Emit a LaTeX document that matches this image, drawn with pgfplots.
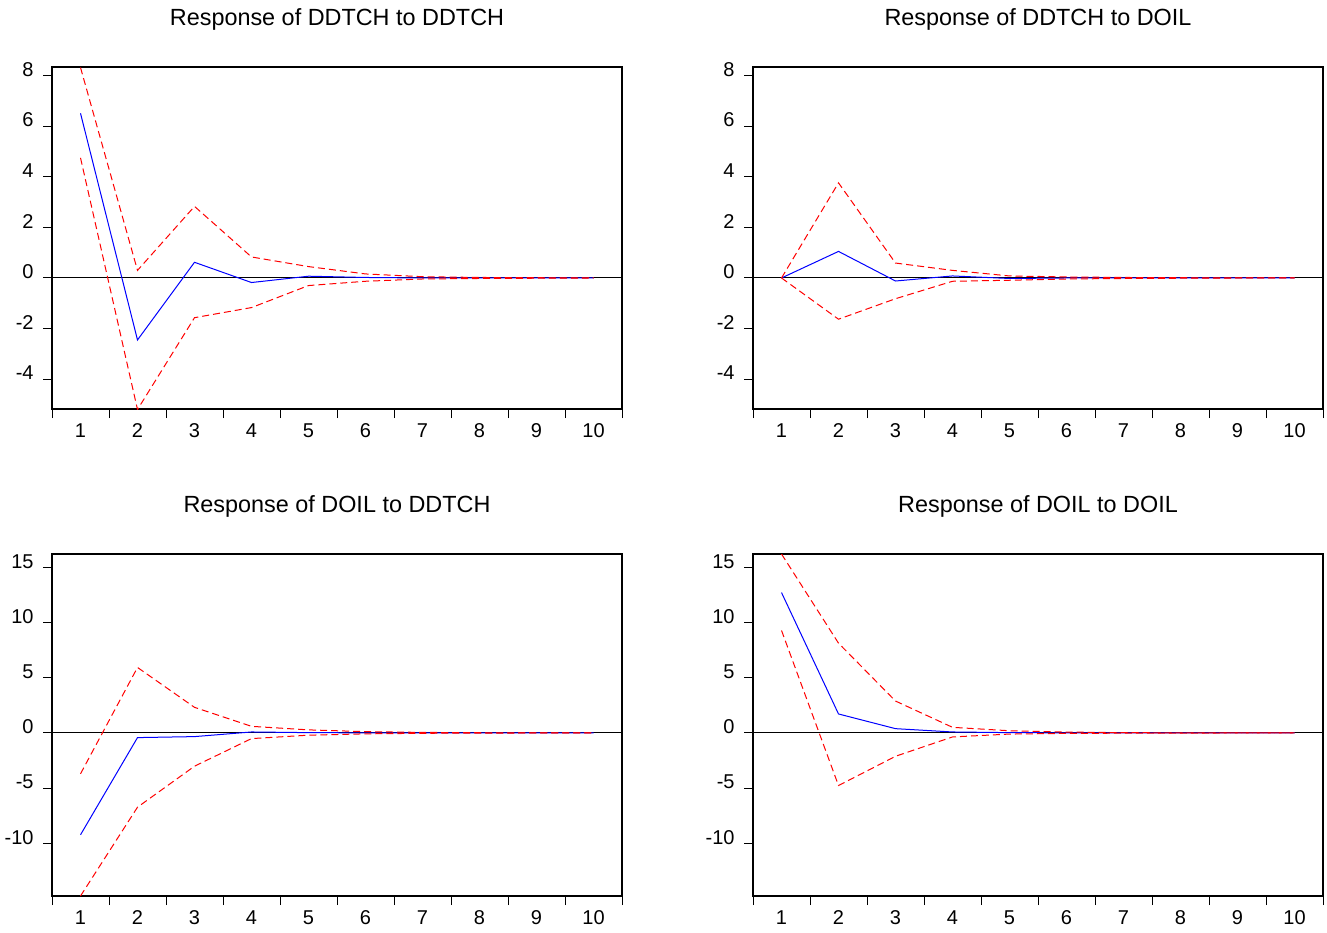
\documentclass[border=0pt]{standalone}
\usepackage{fontspec}
\setmainfont{Liberation Sans}
\usepackage{pgfplots}
\pgfplotsset{compat=1.18}
\definecolor{evblue}{RGB}{0,0,255}
\definecolor{evred}{RGB}{255,0,0}
\pgfplotsset{
  irf/.style={
    scale only axis, width=285pt, height=171pt,
    anchor=north west,
    xmin=0.5, xmax=10.5,
    axis line style={black, line width=0.6pt},
    tick align=outside,
    tick pos=left,
    xtick={0.5,1.5,2.5,3.5,4.5,5.5,6.5,7.5,8.5,9.5,10.5},
    x tick label as interval,
    xticklabels={1,2,3,4,5,6,7,8,9,10},
    major tick length=4.5pt,
    tick style={black, line width=0.5pt},
    xticklabel style={font=\fontsize{10}{12}\selectfont, anchor=base, yshift=-9.5pt},
    yticklabel style={font=\fontsize{10}{12}\selectfont, anchor=east, xshift=-1.2pt, yshift=2pt},
    title style={font=\fontsize{11.7}{14}\selectfont, anchor=base, at={(0.5,1)}, yshift=15pt},
    typeset ticklabels with strut=false,
    every axis plot/.append style={line width=0.5pt},
  },
  topax/.style={ymin=-5.18, ymax=8.34, ytick={-4,-2,0,2,4,6,8}, yticklabels={-4,-2,0,2,4,6,8}},
  botax/.style={ymin=-14.76, ymax=16.2, ytick={-10,-5,0,5,10,15}, yticklabels={-10,-5,0,5,10,15}},
  resp/.style={evblue, solid},
  band/.style={evred, dash pattern=on 3.5pt off 2pt},
  zero/.style={black, line width=0.5pt},
}
\begin{document}
\begin{tikzpicture}
\useasboundingbox (0,0) rectangle (663.5pt,-466pt);
% Top-left
\begin{axis}[irf, topax, at={(26pt,-33.5pt)}, title={Response of DDTCH to DDTCH}]
\addplot[zero] coordinates {(0.5,0) (10.5,0)};
\addplot[resp] coordinates {(1,6.51) (2,-2.45) (3,0.62) (4,-0.18) (5,0.07) (6,0.02) (7,0.0) (8,0.0) (9,0.0) (10,0.0)};
\addplot[band] coordinates {(1,8.32) (2,0.30) (3,2.83) (4,0.83) (5,0.45) (6,0.16) (7,0.05) (8,0.02) (9,0.01) (10,0.0)};
\addplot[band] coordinates {(1,4.75) (2,-5.20) (3,-1.57) (4,-1.17) (5,-0.30) (6,-0.13) (7,-0.04) (8,-0.02) (9,-0.01) (10,0.0)};
\end{axis}
% Top-right
\begin{axis}[irf, topax, at={(376.5pt,-33.5pt)}, title={Response of DDTCH to DOIL}]
\addplot[zero] coordinates {(0.5,0) (10.5,0)};
\addplot[resp] coordinates {(1,0) (2,1.05) (3,-0.12) (4,0.08) (5,-0.02) (6,0.0) (7,0.0) (8,0.0) (9,0.0) (10,0.0)};
\addplot[band] coordinates {(1,0) (2,3.76) (3,0.59) (4,0.30) (5,0.08) (6,0.04) (7,0.02) (8,0.01) (9,0.0) (10,0.0)};
\addplot[band] coordinates {(1,0) (2,-1.63) (3,-0.82) (4,-0.13) (5,-0.09) (6,-0.04) (7,-0.02) (8,-0.01) (9,0.0) (10,0.0)};
\end{axis}
% Bottom-left
\begin{axis}[irf, botax, at={(26pt,-277pt)}, title={Response of DOIL to DDTCH}]
\addplot[zero] coordinates {(0.5,0) (10.5,0)};
\addplot[resp] coordinates {(1,-9.22) (2,-0.42) (3,-0.33) (4,0.09) (5,0.03) (6,0.01) (7,0.0) (8,0.0) (9,0.0) (10,0.0)};
\addplot[band] coordinates {(1,-3.70) (2,5.93) (3,2.32) (4,0.60) (5,0.28) (6,0.12) (7,0.05) (8,0.02) (9,0.01) (10,0.0)};
\addplot[band] coordinates {(1,-14.76) (2,-6.72) (3,-3.01) (4,-0.51) (5,-0.20) (6,-0.08) (7,-0.03) (8,-0.01) (9,0.0) (10,0.0)};
\end{axis}
% Bottom-right
\begin{axis}[irf, botax, at={(376.5pt,-277pt)}, title={Response of DOIL to DOIL}]
\addplot[zero] coordinates {(0.5,0) (10.5,0)};
\addplot[resp] coordinates {(1,12.71) (2,1.72) (3,0.39) (4,0.09) (5,0.03) (6,0.01) (7,0.0) (8,0.0) (9,0.0) (10,0.0)};
\addplot[band] coordinates {(1,16.2) (2,8.13) (3,2.89) (4,0.51) (5,0.20) (6,0.08) (7,0.03) (8,0.01) (9,0.0) (10,0.0)};
\addplot[band] coordinates {(1,9.28) (2,-4.76) (3,-2.11) (4,-0.36) (5,-0.10) (6,-0.04) (7,-0.02) (8,-0.01) (9,0.0) (10,0.0)};
\end{axis}
\end{tikzpicture}
\end{document}
